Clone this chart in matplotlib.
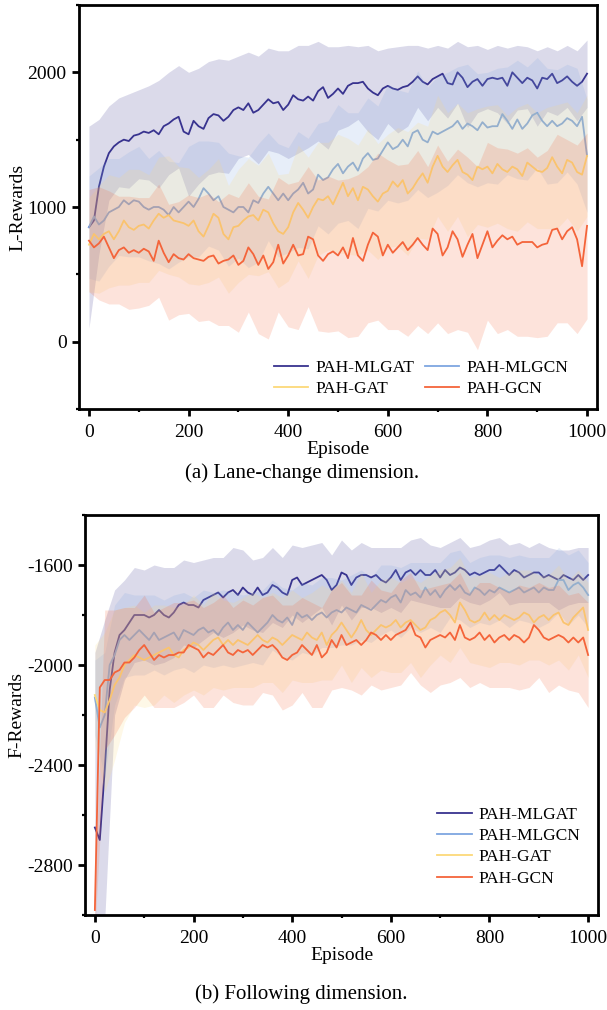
import numpy as np
import matplotlib
matplotlib.use("Agg")
import matplotlib.pyplot as plt
from matplotlib.ticker import MultipleLocator

plt.rcParams['font.family'] = ['Liberation Serif', 'DejaVu Serif']
plt.rcParams['axes.unicode_minus'] = False

labels = ["PAH-MLGAT", "PAH-MLGCN", "PAH-GAT", "PAH-GCN"]
colors = ["#38338f", "#7ea6e0", "#fcd97a", "#f4643a"]

episodes = list(range(0, 1001, 10))
band_episodes = list(range(0, 1001, 20))

# ---------------- (a) Lane-change dimension: L-Rewards ----------------
L_mlgat = [850, 900, 1150, 1300, 1400, 1450, 1480, 1500, 1490, 1530,
           1540, 1560, 1550, 1570, 1540, 1600, 1620, 1650, 1670, 1560,
           1540, 1640, 1600, 1580, 1660, 1690, 1680, 1640, 1670, 1720,
           1740, 1720, 1770, 1700, 1720, 1760, 1800, 1770, 1780, 1720,
           1760, 1830, 1800, 1790, 1820, 1790, 1860, 1890, 1810, 1840,
           1880, 1840, 1900, 1920, 1920, 1930, 1880, 1850, 1830, 1880,
           1900, 1880, 1870, 1890, 1900, 1930, 1970, 1930, 1910, 1950,
           1970, 1990, 1920, 1910, 2000, 1960, 1890, 1930, 1950, 1900,
           1950, 1960, 1950, 1960, 1900, 2000, 1960, 1920, 1960, 1940,
           1880, 1960, 1950, 1990, 1920, 1940, 1970, 1930, 1900, 1930,
           1990]
L_mlgcn = [850, 930, 870, 900, 960, 980, 1000, 1050, 1020, 1050,
           1040, 1000, 980, 1000, 1000, 980, 940, 1000, 960, 1000,
           1040, 1000, 1060, 1140, 1100, 1050, 1080, 1000, 980, 960,
           1000, 1000, 960, 1050, 1030, 1100, 1150, 1100, 1050, 1100,
           1050, 1100, 1130, 1180, 1100, 1130, 1240, 1200, 1220, 1280,
           1320, 1250, 1300, 1330, 1270, 1360, 1400, 1350, 1360, 1420,
           1480, 1430, 1450, 1500, 1450, 1550, 1570, 1500, 1480, 1560,
           1540, 1560, 1580, 1600, 1640, 1580, 1620, 1600, 1570, 1630,
           1590, 1600, 1600, 1690, 1640, 1580, 1650, 1580, 1620, 1680,
           1700, 1640, 1600, 1640, 1600, 1620, 1660, 1640, 1600, 1670,
           1380]
L_gat = [720, 800, 760, 800, 820, 760, 820, 900, 850, 830,
         860, 870, 840, 900, 950, 920, 940, 900, 890, 880,
         860, 900, 820, 780, 860, 950, 920, 800, 760, 850,
         860, 900, 930, 940, 900, 980, 960, 880, 820, 800,
         850, 960, 1030, 980, 920, 1000, 1060, 1050, 1080, 1020,
         1100, 1180, 1080, 1140, 1050, 1150, 1130, 1080, 1040, 1100,
         1120, 1190, 1150, 1200, 1100, 1140, 1200, 1250, 1180, 1300,
         1380, 1300, 1260, 1310, 1350, 1260, 1240, 1200, 1300, 1280,
         1300, 1250, 1320, 1280, 1260, 1300, 1280, 1230, 1330, 1300,
         1270, 1260, 1290, 1370, 1300, 1250, 1350, 1330, 1260, 1240,
         1380]
L_gcn = [750, 700, 730, 780, 700, 620, 680, 700, 660, 680,
         660, 690, 670, 600, 750, 660, 590, 650, 620, 610,
         650, 620, 610, 600, 630, 640, 580, 600, 610, 640,
         570, 600, 700, 650, 570, 640, 540, 590, 720, 580,
         640, 720, 640, 650, 780, 760, 640, 600, 650, 670,
         640, 700, 620, 770, 640, 600, 720, 810, 780, 640,
         720, 660, 700, 740, 680, 720, 770, 720, 680, 840,
         800, 640, 700, 820, 760, 630, 720, 800, 620, 720,
         820, 700, 750, 790, 760, 780, 720, 740, 740, 740,
         700, 720, 730, 830, 840, 760, 820, 850, 760, 560,
         860]

L_mlgat_std = [750, 500, 350, 330, 350, 330, 350, 400, 380, 380,
               460, 430, 420, 420, 420, 380, 380, 400, 380, 380,
               400, 400, 380, 370, 380, 310, 300, 270, 320, 330,
               280, 320, 300, 230, 270, 230, 260, 230, 300, 250,
               220, 250, 280, 240, 230, 280, 240, 240, 230, 260,
               250]
L_mlgcn_std = [380, 420, 400, 360, 390, 410, 380, 420, 400, 370,
               410, 430, 390, 400, 420, 380, 410, 440, 400, 420,
               390, 430, 410, 380, 420, 440, 400, 430, 410, 390,
               430, 420, 400, 440, 410, 430, 420, 400, 440, 420,
               410, 430, 400, 440, 420, 410, 430, 420, 400, 430,
               420]
L_gat_std = [350, 400, 420, 400, 430, 420, 400, 420, 440, 410,
             430, 400, 420, 440, 400, 420, 430, 410, 440, 420,
             400, 430, 450, 420, 400, 440, 430, 410, 450, 430,
             420, 440, 460, 430, 420, 450, 440, 420, 460, 430,
             450, 440, 420, 460, 440, 430, 450, 460, 430, 440,
             450]
L_gcn_std = [380, 420, 420, 400, 420, 410, 400, 420, 430, 420,
             440, 460, 470, 460, 490, 500, 480, 510, 520, 500,
             530, 550, 520, 560, 580, 560, 590, 600, 580, 620,
             630, 610, 640, 650, 620, 660, 640, 670, 650, 680,
             660, 690, 670, 680, 700, 670, 690, 700, 680, 700,
             690]

# ---------------- (b) Following dimension: F-Rewards ----------------
F_mlgat = [-2650, -2700, -2420, -2100, -1950, -1880, -1860, -1830, -1800, -1800,
           -1800, -1810, -1800, -1780, -1800, -1810, -1790, -1760, -1750, -1760,
           -1760, -1770, -1740, -1730, -1720, -1710, -1730, -1710, -1700, -1720,
           -1690, -1710, -1720, -1690, -1720, -1710, -1680, -1690, -1710, -1720,
           -1660, -1650, -1680, -1670, -1660, -1650, -1640, -1660, -1700, -1680,
           -1630, -1640, -1680, -1650, -1640, -1640, -1650, -1640, -1660, -1670,
           -1650, -1620, -1660, -1630, -1620, -1640, -1620, -1640, -1640, -1620,
           -1650, -1620, -1640, -1630, -1610, -1620, -1640, -1630, -1640, -1630,
           -1620, -1620, -1600, -1620, -1640, -1620, -1630, -1650, -1640, -1630,
           -1630, -1650, -1640, -1650, -1660, -1640, -1650, -1660, -1640, -1660,
           -1640]
F_mlgcn = [-2130, -2250, -2200, -2000, -1960, -1900, -1880, -1900, -1880, -1860,
           -1880, -1900, -1870, -1900, -1890, -1880, -1870, -1900, -1860, -1870,
           -1880, -1860, -1850, -1870, -1860, -1880, -1850, -1830, -1860, -1840,
           -1860, -1830, -1850, -1870, -1850, -1830, -1800, -1820, -1830, -1810,
           -1840, -1790, -1810, -1800, -1820, -1800, -1790, -1810, -1790, -1780,
           -1790, -1770, -1780, -1790, -1760, -1770, -1780, -1760, -1740, -1750,
           -1730, -1720, -1750, -1700, -1720, -1710, -1730, -1690, -1720, -1700,
           -1730, -1700, -1680, -1700, -1680, -1710, -1720, -1690, -1700, -1720,
           -1700, -1710, -1690, -1700, -1710, -1700, -1690, -1710, -1700, -1690,
           -1710, -1690, -1700, -1700, -1660, -1660, -1700, -1680, -1670, -1690,
           -1720]
F_gat = [-2120, -2180, -2190, -2140, -2080, -2050, -2000, -1980, -1960, -1970,
         -1980, -1970, -1960, -1950, -1940, -1930, -1960, -1970, -1940, -1930,
         -1910, -1920, -1940, -1920, -1900, -1890, -1920, -1900, -1920, -1900,
         -1910, -1920, -1900, -1880, -1900, -1910, -1890, -1900, -1920, -1900,
         -1880, -1890, -1900, -1870, -1890, -1900, -1870, -1920, -1880, -1860,
         -1830, -1860, -1890, -1860, -1820, -1860, -1880, -1860, -1840, -1850,
         -1840, -1820, -1850, -1830, -1820, -1840, -1860, -1850, -1820, -1810,
         -1790, -1780, -1800, -1830, -1750, -1780, -1820, -1830, -1820, -1790,
         -1820, -1800, -1820, -1800, -1810, -1820, -1810, -1790, -1800, -1830,
         -1810, -1800, -1820, -1800, -1790, -1830, -1840, -1810, -1790, -1770,
         -1860]
F_gcn = [-2980, -2090, -2060, -2060, -2030, -2020, -1990, -1990, -1970, -1940,
         -1920, -1950, -1980, -1960, -1970, -1960, -1960, -1950, -1950, -1920,
         -1930, -1940, -1970, -1950, -1960, -1940, -1920, -1950, -1960, -1940,
         -1950, -1940, -1960, -1940, -1920, -1930, -1920, -1940, -1970, -1980,
         -1960, -1950, -1920, -1940, -1960, -1920, -1970, -1950, -1900, -1930,
         -1880, -1920, -1910, -1900, -1920, -1900, -1870, -1880, -1900, -1880,
         -1900, -1880, -1870, -1860, -1830, -1880, -1890, -1930, -1900, -1890,
         -1880, -1890, -1870, -1900, -1840, -1890, -1900, -1890, -1870, -1900,
         -1880, -1910, -1890, -1880, -1900, -1880, -1890, -1910, -1890, -1840,
         -1860, -1890, -1900, -1890, -1880, -1890, -1910, -1890, -1910, -1890,
         -1960]

F_mlgat_std = [700, 600, 250, 200, 190, 180, 200, 190, 180, 170,
               170, 160, 150, 160, 170, 150, 140, 150, 150, 140,
               140, 150, 140, 130, 140, 130, 140, 130, 120, 130,
               120, 130, 120, 130, 120, 120, 130, 120, 110, 120,
               120, 110, 120, 120, 110, 120, 110, 120, 110, 110,
               110]
F_mlgcn_std = [150, 250, 200, 170, 160, 160, 150, 150, 150, 150,
               150, 150, 150, 150, 150, 140, 140, 150, 140, 140,
               140, 140, 140, 140, 140, 130, 140, 140, 130, 140,
               130, 140, 130, 140, 130, 140, 130, 140, 130, 130,
               140, 130, 140, 130, 130, 140, 130, 130, 140, 130,
               130]
F_gat_std = [200, 320, 300, 230, 200, 190, 200, 180, 190, 180,
             190, 180, 190, 180, 170, 180, 190, 170, 180, 190,
             180, 170, 180, 190, 180, 170, 180, 190, 170, 180,
             190, 180, 170, 190, 180, 170, 190, 180, 170, 180,
             190, 170, 180, 190, 180, 170, 180, 190, 180, 170,
             190]
F_gcn_std = [80, 280, 250, 220, 200, 200, 190, 200, 210, 200,
             190, 200, 210, 200, 190, 210, 200, 190, 200, 210,
             200, 190, 210, 200, 200, 210, 190, 200, 210, 200,
             190, 210, 200, 190, 210, 200, 200, 210, 190, 200,
             210, 200, 190, 210, 200, 190, 210, 200, 190, 200,
             210]

W, H = 607, 1010
fig = plt.figure(figsize=(W / 100, H / 100), dpi=100)
ax1 = fig.add_axes([79 / W, 1 - 409 / H, 518 / W, 404 / H])
ax2 = fig.add_axes([85 / W, 1 - 915 / H, 513 / W, 400 / H])


def draw(ax, means, stds):
    x = np.array(episodes)
    xb = np.array(band_episodes)
    handles = []
    for i, (m, s) in enumerate(zip(means, stds)):
        m = np.array(m, dtype=float)
        s = np.array(s, dtype=float)
        mb = m[::2]
        ax.fill_between(xb, mb - s, mb + s, color=colors[i], alpha=0.18,
                        linewidth=0, zorder=2 * i + 1)
        h, = ax.plot(x, m, color=colors[i], lw=1.3, zorder=2 * i + 2, label=labels[i])
        handles.append(h)
    return handles


def style(ax):
    for sp in ax.spines.values():
        sp.set_linewidth(2.0)
        sp.set_zorder(20)
    ax.tick_params(which='major', direction='out', length=5, width=2,
                   labelsize=14, top=False, right=False)
    ax.tick_params(axis='x', which='major', pad=6)
    ax.tick_params(axis='y', which='major', pad=4)
    ax.tick_params(which='minor', direction='out', length=2.5, width=1.6,
                   top=False, right=False)
    ax.set_xlim(-20, 1020)
    ax.set_xticks([0, 200, 400, 600, 800, 1000])
    ax.xaxis.set_minor_locator(MultipleLocator(100))
    ax.set_xlabel("Episode", fontsize=14, labelpad=0)


h1 = draw(ax1, [L_mlgat, L_mlgcn, L_gat, L_gcn],
          [L_mlgat_std, L_mlgcn_std, L_gat_std, L_gcn_std])
style(ax1)
ax1.set_ylim(-500, 2500)
ax1.set_yticks([0, 1000, 2000])
ax1.yaxis.set_minor_locator(MultipleLocator(500))
ax1.set_ylabel("L-Rewards", fontsize=14, labelpad=1)
order = [0, 2, 1, 3]
ax1.legend([h1[k] for k in order], [labels[k] for k in order],
           loc='lower right', bbox_to_anchor=(0.968, 0.0), ncol=2, frameon=False,
           fontsize=12.5, handlelength=2.0, handletextpad=0.4,
           columnspacing=0.6, labelspacing=0.25, borderaxespad=0.3)

draw(ax2, [F_mlgat, F_mlgcn, F_gat, F_gcn],
     [F_mlgat_std, F_mlgcn_std, F_gat_std, F_gcn_std])
style(ax2)
ax2.set_ylim(-3000, -1400)
ax2.set_yticks([-2800, -2400, -2000, -1600])
ax2.yaxis.set_minor_locator(MultipleLocator(200))
ax2.set_ylabel("F-Rewards", fontsize=14, labelpad=1)
ax2.legend(loc='lower right', bbox_to_anchor=(0.99, 0.04), ncol=1, frameon=False,
           fontsize=12.5, handlelength=2.0, handletextpad=0.4,
           labelspacing=0.3, borderaxespad=0.3)

fig.text(0.497, 1 - 473 / H, "(a) Lane-change dimension.", ha='center', va='center',
         fontsize=15)
fig.text(0.497, 1 - 994 / H, "(b) Following dimension.", ha='center', va='center',
         fontsize=15)

fig.savefig("out.png", dpi=100)
